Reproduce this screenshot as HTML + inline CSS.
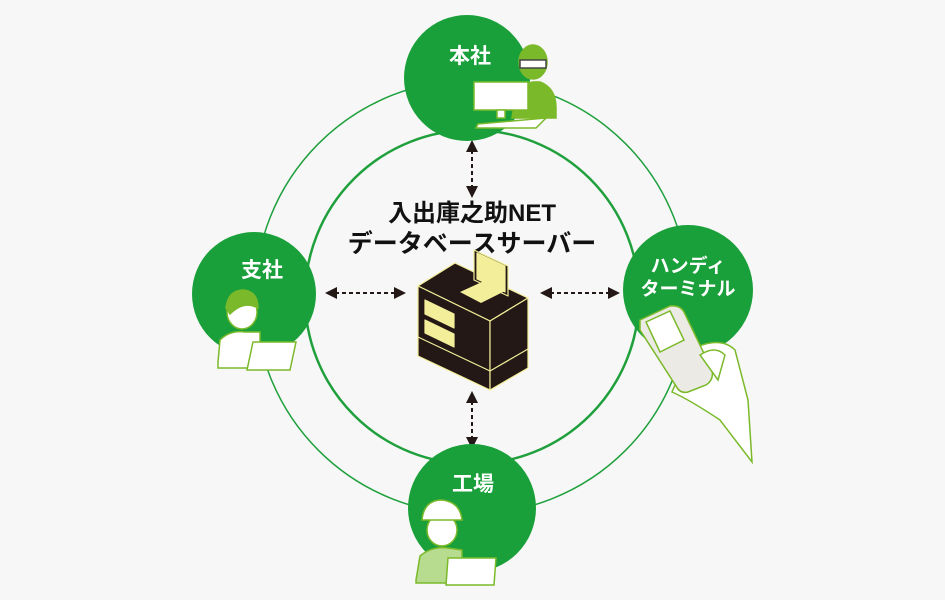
<!DOCTYPE html>
<html><head><meta charset="utf-8"><style>
html,body{margin:0;padding:0;background:#f7f7f7;}
svg{display:block;}
text{font-family:"Liberation Sans","Noto Sans CJK JP",sans-serif;font-weight:bold;}
</style></head><body>
<svg width="945" height="600" viewBox="0 0 945 600" xmlns="http://www.w3.org/2000/svg">
<rect width="945" height="600" fill="#f7f7f7"/>
<circle cx="472" cy="297" r="217" fill="none" stroke="#1fa03c" stroke-width="1.5"/>
<circle cx="472" cy="297" r="167" fill="none" stroke="#1fa03c" stroke-width="2.5"/>
<defs><marker id="a" markerWidth="12" markerHeight="12" refX="9" refY="6" orient="auto-start-reverse" markerUnits="userSpaceOnUse"><path d="M0,0 L12,6 L0,12z" fill="#231815"/></marker></defs>
<g stroke="#231815" stroke-width="2" stroke-dasharray="4,3" fill="none">
<line x1="472" y1="143" x2="472" y2="195" marker-start="url(#a)" marker-end="url(#a)"/>
<line x1="472" y1="394" x2="472" y2="446" marker-start="url(#a)" marker-end="url(#a)"/>
<line x1="328" y1="293" x2="403" y2="293" marker-start="url(#a)" marker-end="url(#a)"/>
<line x1="543" y1="293" x2="617" y2="293" marker-start="url(#a)" marker-end="url(#a)"/>
</g>
<text x="472" y="221" font-size="24" text-anchor="middle" fill="#111">入出庫之助NET</text>
<text x="472" y="252" font-size="25" text-anchor="middle" fill="#111">データベースサーバー</text>
<!-- server -->
<g stroke="#f3ee9a" stroke-width="1.2" stroke-linejoin="round">
<polygon points="418,286 455,263 528,298 490,321" fill="#231815"/>
<polygon points="418,286 490,321 490,390 418,356" fill="#231815"/>
<polygon points="490,321 528,298 528,368 490,390" fill="#231815"/>
<line x1="418" y1="337" x2="490" y2="371"/><line x1="490" y1="371" x2="528" y2="349"/>
<polygon points="474,250 508,266 508,296 474,280" fill="#231815"/>
<polygon points="477,253 505,266 505,292 477,279" fill="#f3ee9a"/>
<polygon points="460,292 484,281 505,291 481,303" fill="#f3ee9a" stroke="none"/>
<polygon points="425,300 454,314 454,328 425,314" fill="#f3ee9a"/>
<polygon points="425,320 454,334 454,347 425,333" fill="#f3ee9a"/>
</g>
<!-- node circles -->
<circle cx="467" cy="78" r="63" fill="#1aa03a"/>
<circle cx="254" cy="294" r="62" fill="#1aa03a"/>
<circle cx="688" cy="290" r="65" fill="#1aa03a"/>
<circle cx="472" cy="508" r="64" fill="#1aa03a"/>
<text x="470" y="63" font-size="21" fill="#fff" text-anchor="middle">本社</text>
<text x="262" y="277" font-size="21" fill="#fff" text-anchor="middle">支社</text>
<text x="473" y="491" font-size="21" fill="#fff" text-anchor="middle">工場</text>
<text x="688" y="272" font-size="19" fill="#fff" text-anchor="middle" font-weight="normal">ハンディ</text>
<text x="688" y="295" font-size="19" fill="#fff" text-anchor="middle" font-weight="normal">ターミナル</text>
<!-- 本社 person -->
<g stroke="#7ab929" stroke-width="1.5">
<path d="M515,100 Q520,80 540,82 Q556,88 556,108 L556,118 L512,118Z" fill="#7ab929"/>
<ellipse cx="533" cy="62" rx="14" ry="17" fill="#7ab929"/>
<rect x="520" y="60" width="26" height="8" fill="#fff" stroke="#444"/>
<polygon points="474,82 528,82 528,110 474,110" fill="#fff"/>
<polygon points="478,124 546,118 536,128 476,128" fill="#fff"/>
<rect x="497" y="110" width="8" height="8" fill="#fff"/>
</g>
<!-- 支社 person -->
<g stroke="#7ab929" stroke-width="1.5">
<path d="M218,362 L220,340 Q230,330 245,332 L260,332 L260,368 L218,368Z" fill="#fff"/>
<ellipse cx="242" cy="312" rx="15" ry="17" fill="#fff"/>
<path d="M226,308 Q228,290 244,290 Q258,292 258,308 Q244,300 230,314Z" fill="#7ab929"/>
<polygon points="253,342 296,342 290,370 247,370" fill="#fff"/>
</g>
<!-- 工場 person -->
<g stroke="#7ab929" stroke-width="1.5">
<path d="M416,580 L420,556 Q432,546 448,548 L462,550 L462,583 L416,583Z" fill="#b7dc8f"/>
<ellipse cx="442" cy="530" rx="15" ry="16" fill="#fff"/>
<path d="M422,520 Q424,500 442,500 Q460,502 462,520Z" fill="#fff"/>
<polygon points="448,558 496,558 494,585 446,585" fill="#fff"/>
</g>
<!-- handy terminal hand -->
<g stroke="#7ab929" stroke-width="1.5">
<path d="M690,350 Q720,335 735,350 L748,400 L752,462 L720,420 Q690,400 672,392 Z" fill="#fff"/>
<path d="M640,320 L670,306 Q680,305 684,312 L712,370 Q714,380 706,385 L688,392 Q680,394 676,386 L640,330Z" fill="#eceae4"/>
<polygon points="646,322 670,311 684,340 660,352" fill="#fff"/>
<path d="M700,355 Q715,345 725,355 L718,380 Z" fill="#fff"/>
</g>
</svg>
</body></html>
